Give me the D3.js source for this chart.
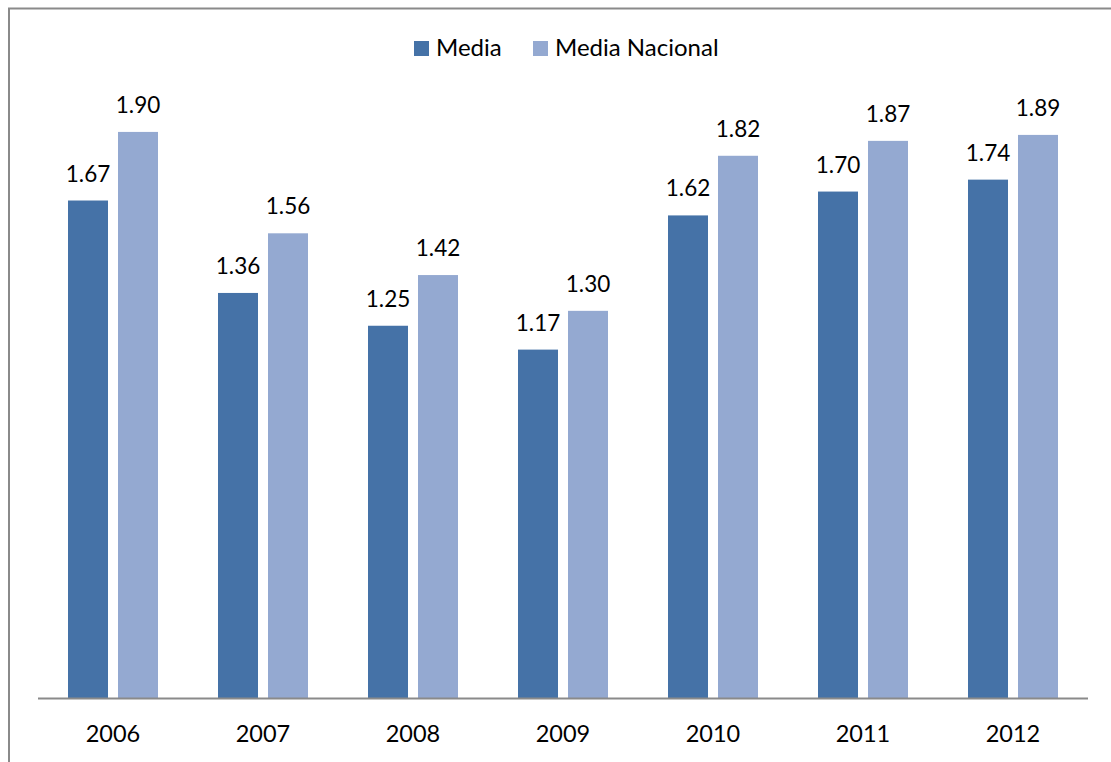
<!DOCTYPE html>
<html><head><meta charset="utf-8">
<script src="https://cdn.jsdelivr.net/npm/d3@7"></script>
<style>body{margin:0;background:#fff}svg{display:block}</style>
</head><body>
<svg id="c" width="1111" height="762"></svg>
<script>
const years = ["2006","2007","2008","2009","2010","2011","2012"];
const seriesNames = ["Media","Media Nacional"];
const media = [1.67,1.36,1.25,1.17,1.62,1.70,1.74];
const mediaNacional = [1.90,1.56,1.42,1.30,1.82,1.87,1.89];
const colors = ["#4572A7","#94A9D1"];

const svg = d3.select("#c");
const font = "Lato, 'Open Sans', sans-serif";

// frame
svg.append("rect").attr("x",9).attr("y",8.5).attr("width",1200).attr("height",900)
  .attr("fill","none").attr("stroke","#8a8a8a").attr("stroke-width",2);

const x0 = d3.scaleBand().domain(years).range([38,1088]).paddingInner(0).paddingOuter(0);
const x1 = d3.scaleBand().domain(seriesNames).range([30,120]).paddingInner(0.2).paddingOuter(0);
const y = d3.scaleLinear().domain([0,2]).range([698.5,102.1]);

const data = years.map((yr,i)=>({year:yr, vals:[{s:seriesNames[0],v:media[i]},{s:seriesNames[1],v:mediaNacional[i]}]}));

const g = svg.append("g");
const grp = g.selectAll("g.cat").data(data).join("g").attr("transform",d=>`translate(${x0(d.year)},0)`);
grp.selectAll("rect").data(d=>d.vals).join("rect")
  .attr("x",d=>x1(d.s)).attr("width",x1.bandwidth())
  .attr("y",d=>y(d.v)).attr("height",d=>y(0)-y(d.v))
  .attr("fill",(d,i)=>colors[i]);
grp.selectAll("text").data(d=>d.vals).join("text")
  .attr("x",d=>x1(d.s)+x1.bandwidth()/2).attr("y",d=>y(d.v)-19)
  .attr("text-anchor","middle").attr("font-family",font).attr("font-size",22.5).attr("fill","#000")
  .text(d=>d.v.toFixed(2));

// x axis
const ax = svg.append("g").attr("transform",`translate(0,${y(0)})`)
  .call(d3.axisBottom(x0).tickSize(0).tickPadding(0));
ax.select(".domain").attr("stroke","#8a8a8a").attr("stroke-width",2).attr("d",`M38,0H1088`);
ax.selectAll("text").attr("font-family",font).attr("font-size",23.5).attr("fill","#000")
  .attr("dy",null).attr("y",43);

// legend
const leg = svg.append("g");
const legX = [414, 533];
seriesNames.forEach((s,i)=>{
  leg.append("rect").attr("x",legX[i]).attr("y",41).attr("width",15).attr("height",15).attr("fill",colors[i]);
  leg.append("text").attr("x",legX[i]+22).attr("y",56).attr("font-family",font).attr("font-size",24).attr("fill","#000").text(s);
});
</script>
</body></html>
